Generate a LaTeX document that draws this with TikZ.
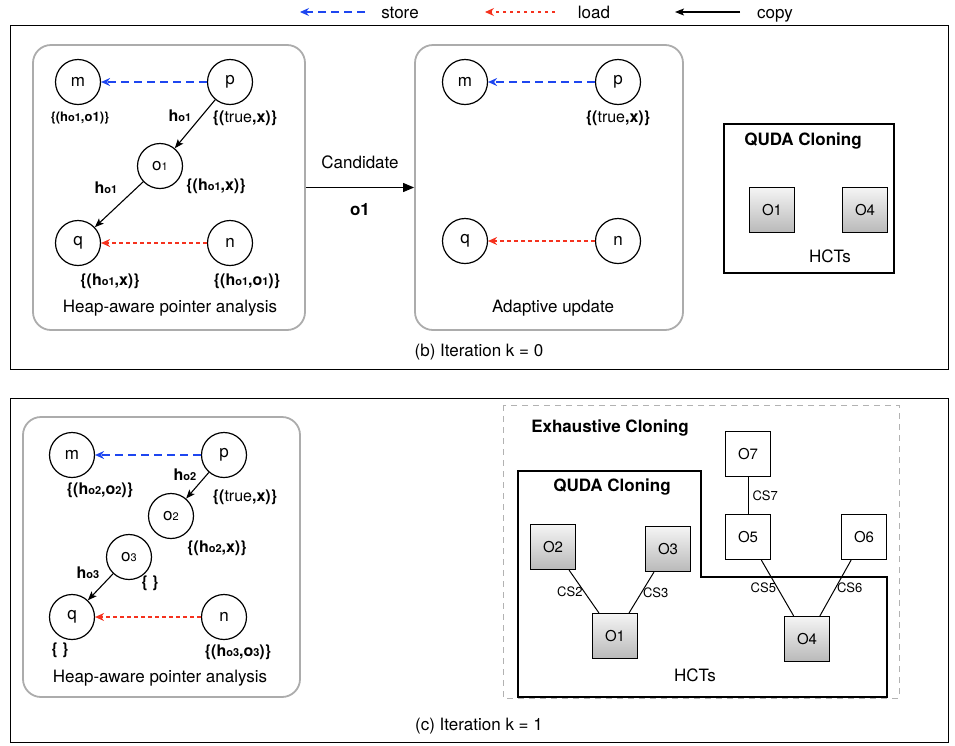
\documentclass[tikz,border=0pt]{standalone}
\usepackage{fontspec}
\setmainfont{TeX Gyre Heros}
\usetikzlibrary{arrows.meta}

\definecolor{storeblue}{RGB}{30,70,240}
\definecolor{loadred}{RGB}{245,50,30}
\newcommand{\sub}[1]{{\fontsize{11}{12}\selectfont #1}}

\begin{document}
\begin{tikzpicture}[x=1pt,y=-1pt,
  every node/.style={font=\fontsize{17}{20}\selectfont},
  var/.style={circle,draw,line width=1.2,minimum size=45,inner sep=0pt},
  obj/.style={draw,line width=1.2,minimum size=45,inner sep=0pt,font=\fontsize{15}{18}\selectfont},
  hct/.style={obj,top color=gray!8,bottom color=gray!55},
  lbl/.style={font=\fontsize{16}{19}\selectfont\bfseries,inner sep=1pt},
  lbls/.style={font=\fontsize{13}{15}\selectfont\bfseries,inner sep=1pt},
  cs/.style={font=\fontsize{13}{15}\selectfont,inner sep=1pt},
  panel/.style={draw=gray!65,line width=1.8,rounded corners=18},
  quda/.style={line width=2.6},
  store/.style={-{Stealth[length=9,width=8,inset=3]},storeblue,line width=1.1,dash pattern=on 8pt off 5pt},
  load/.style={-{Stealth[length=9,width=8,inset=3]},loadred,line width=1.1,dash pattern=on 3.5pt off 3.5pt},
  copy/.style={-{Stealth[length=9,width=7,inset=2]},line width=1.1}]
  \useasboundingbox (0,0) rectangle (955,745);

  % legend
  \coordinate (st0) at (300,12);
  \coordinate (st1) at (365,12);
  \coordinate (ld0) at (485,12);
  \coordinate (ld1) at (555,12);
  \coordinate (cp0) at (675,12);
  \coordinate (cp1) at (740,12);
  \draw[store] (st1) -- (st0);
  \draw[load] (ld1) -- (ld0);
  \draw[copy] (cp1) -- (cp0);
  \node[anchor=base] (stl) at (400,18) {store};
  \node[anchor=base] (ldl) at (594,18) {load};
  \node[anchor=base] (cpl) at (775,18) {copy};

  % (b) iteration k = 0
  \draw (10,25) rectangle (948,369);
  \node[panel,minimum width=272,minimum height=285] (hpa1) at (169,187.5) {};
  \node[panel,minimum width=268,minimum height=285] (upd) at (549,187.5) {};

  \node[var] (m1) at (78,82) {m};
  \node[var] (p1) at (230,82) {p};
  \node[var] (o11) at (160,166) {o\sub{1}};
  \node[var] (q1) at (78,243) {q};
  \node[var] (n1) at (230,243) {n};

  \draw[store] (p1) -- (m1);
  \draw[copy] (p1) -- (o11);
  \draw[copy] (o11) -- (q1);
  \draw[load] (n1) -- (q1);

  \node[lbls] (lm1) at (80,118) {\{(h\sub{o1},o1)\}};
  \node[lbl] (lp1) at (245,118) {\{(\textmd{true},x)\}};
  \node[lbl] (e1) at (180,116) {h\sub{o1}};
  \node[lbl] (lo11) at (216,186) {\{(h\sub{o1},x)\}};
  \node[lbl] (e2) at (106,188) {h\sub{o1}};
  \node[lbl] (lq1) at (110,281) {\{(h\sub{o1},x)\}};
  \node[lbl] (ln1) at (247,281) {\{(h\sub{o1},o\sub{1})\}};
  \node (cap1) at (170,308) {Heap-aware pointer analysis};

  \draw[-{Triangle[length=11,width=9]},line width=1] (hpa1.east) -- node[above=15] (cand) {Candidate}
    node[below=12,font=\fontsize{17}{20}\selectfont\bfseries] (co1) {o1} (upd.west);

  \node[var] (m2) at (465,82) {m};
  \node[var] (p2) at (618,82) {p};
  \node[var] (q2) at (465,241) {q};
  \node[var] (n2) at (618,241) {n};
  \draw[store] (p2) -- (m2);
  \draw[load] (n2) -- (q2);
  \node[lbl] (lp2) at (618,118) {\{(\textmd{true},x)\}};
  \node (cap2) at (553,308) {Adaptive update};

  \draw[quda] (724,124) rectangle (894,273);
  \node[lbl,font=\fontsize{17}{20}\selectfont\bfseries] (qt1) at (803,141) {QUDA Cloning};
  \node[hct] (t1) at (772,210) {O1};
  \node[hct] (t4) at (865,210) {O4};
  \node (hct1) at (830,256) {HCTs};

  \node (capb) at (479,352) {(b) Iteration k = 0};

  % (c) iteration k = 1
  \draw (10,398) rectangle (948,742);
  \node[panel,minimum width=277,minimum height=280] (hpa2) at (161.5,557) {};

  \node[var] (m3) at (72,455) {m};
  \node[var] (p3) at (224,455) {p};
  \node[var] (o2) at (171,516) {o\sub{2}};
  \node[var] (o3) at (129,557) {o\sub{3}};
  \node[var] (q3) at (72,617) {q};
  \node[var] (n3) at (224,617) {n};

  \draw[store] (p3) -- (m3);
  \draw[copy] (p3) -- (o2);
  \draw[copy] (o3) -- (q3);
  \draw[load] (n3) -- (q3);

  \node[lbl] (lm3) at (100,490) {\{(h\sub{o2},o\sub{2})\}};
  \node[lbl] (e3) at (185,475) {h\sub{o2}};
  \node[lbl] (lp3) at (245,497) {\{(\textmd{true},x)\}};
  \node[lbl] (lo2) at (217,548) {\{(h\sub{o2},x)\}};
  \node[lbl] (e4) at (88,573) {h\sub{o3}};
  \node[lbl] (lo3) at (150,583) {\{ \}};
  \node[lbl] (lq3) at (60,650) {\{ \}};
  \node[lbl] (ln3) at (238,652) {\{(h\sub{o3},o\sub{3})\}};
  \node (cap3) at (160,678) {Heap-aware pointer analysis};

  \draw[gray!60,line width=1,dash pattern=on 6pt off 5pt] (503,405) rectangle (899,698);
  \node[lbl,font=\fontsize{17}{20}\selectfont\bfseries] (ex) at (610,428) {Exhaustive Cloning};
  \draw[quda] (518,471) -- (701,471) -- (701,577) -- (887,577) -- (887,697) -- (518,697) -- cycle;
  \node[lbl,font=\fontsize{17}{20}\selectfont\bfseries] (qt2) at (612,487) {QUDA Cloning};

  \node[hct] (b2) at (553,547) {O2};
  \node[hct] (b3) at (668,549) {O3};
  \node[hct] (b1) at (615,636) {O1};
  \node[hct] (b4) at (807,639) {O4};
  \node[obj] (b7) at (748,454) {O7};
  \node[obj] (b5) at (748,537) {O5};
  \node[obj] (b6) at (864,537) {O6};

  \draw[line width=1] (b2) -- node[cs,left] (c2) {CS2} (b1);
  \draw[line width=1] (b3) -- node[cs,right] (c3) {CS3} (b1);
  \draw[line width=1] (b7) -- node[cs,right=3] (c7) {CS7} (b5);
  \draw[line width=1] (b5) -- node[cs,left] (c5) {CS5} (b4);
  \draw[line width=1] (b6) -- node[cs,right] (c6) {CS6} (b4);
  \node (hct2) at (695,675) {HCTs};

  \node (capc) at (479,726) {(c) Iteration k = 1};
\end{tikzpicture}
\end{document}
